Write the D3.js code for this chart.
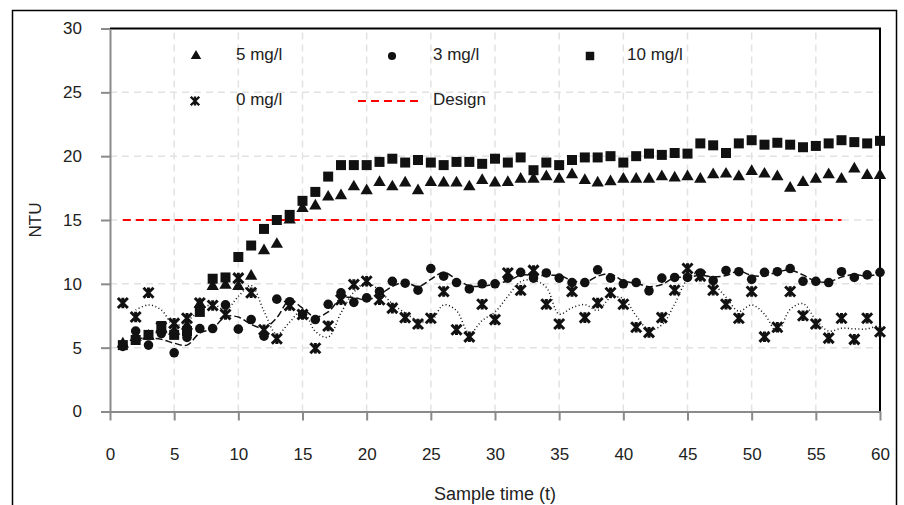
<!DOCTYPE html>
<html lang="en">
<head>
<meta charset="UTF-8">
<title>NTU vs sample time</title>
<script src="https://cdn.jsdelivr.net/npm/d3@7/dist/d3.min.js"></script>
<style>
    body { margin: 0; background: #fff; }
    svg text { font-family: "Liberation Sans", Arial, sans-serif; fill: #222; }
    .grid line { stroke: #e2e2e2; stroke-width: 1.5; stroke-dasharray: 7,5; }
    .axis path, .axis line { stroke: #8a8a8a; stroke-width: 2; }
    .axis text { font-size: 17px; }
</style>
</head>
<body>
<svg width="904" height="505"></svg>
<script>
    // sample times 1..60
    var sampleTimes = d3.range(1, 61);

    var ntu5 = [5.3, 5.8, 5.9, 6.4, 6.3, 6.7, 8.4, 9.8, 9.9, 9.8,
                10.6, 12.6, 13.1, 15.0, 15.9, 16.1, 16.8, 16.9, 17.6, 17.3,
                17.95, 17.6, 17.9, 17.3, 17.95, 17.9, 17.9, 17.6, 18.1, 17.9,
                17.95, 18.2, 18.2, 18.4, 18.2, 18.55, 18.1, 17.9, 18.0, 18.2,
                18.2, 18.2, 18.4, 18.3, 18.4, 18.2, 18.55, 18.6, 18.4, 18.8,
                18.6, 18.4, 17.5, 17.95, 18.2, 18.55, 18.2, 19.0, 18.5, 18.5];

    var ntu3 = [5.1, 6.3, 5.2, 6.1, 4.6, 5.8, 6.5, 6.5, 8.35, 6.45,
                7.2, 5.9, 8.8, 8.6, 7.6, 7.2, 8.4, 9.3, 8.55, 8.9,
                9.4, 10.2, 10.05, 9.5, 11.2, 10.6, 10.1, 9.6, 10.0, 10.0,
                10.45, 10.9, 10.45, 10.85, 10.45, 10.1, 10.1, 11.1, 10.45, 10.0,
                10.1, 9.45, 10.45, 10.5, 10.5, 10.85, 10.25, 11.05, 10.95, 10.35,
                10.9, 10.95, 11.2, 10.2, 10.2, 10.1, 10.95, 10.5, 10.7, 10.9];

    var ntu10 = [5.2, 5.6, 6.0, 6.7, 6.0, 6.3, 7.8, 10.4, 10.5, 12.1,
                 13.0, 14.3, 15.0, 15.4, 16.5, 17.2, 18.4, 19.3, 19.3, 19.3,
                 19.55, 19.8, 19.5, 19.7, 19.5, 19.3, 19.55, 19.55, 19.4, 19.8,
                 19.5, 19.9, 18.9, 19.5, 19.3, 19.7, 19.9, 19.9, 20.0, 19.5,
                 20.0, 20.2, 20.1, 20.25, 20.2, 21.0, 20.85, 20.25, 21.0, 21.25,
                 20.9, 21.05, 20.9, 20.7, 20.8, 21.0, 21.25, 21.1, 21.0, 21.2];

    var ntu0 = [8.5, 7.4, 9.3, 6.6, 6.9, 7.3, 8.5, 8.3, 7.6, 10.45,
                9.3, 6.4, 5.7, 8.3, 7.6, 4.95, 6.7, 8.75, 9.95, 10.2,
                8.75, 8.1, 7.35, 6.85, 7.3, 9.4, 6.4, 5.85, 8.4, 7.2,
                10.85, 9.5, 11.05, 8.4, 6.85, 9.4, 7.35, 8.5, 9.3, 8.4,
                6.6, 6.2, 7.35, 9.5, 11.2, 10.6, 9.5, 8.4, 7.3, 9.4,
                5.85, 6.6, 9.4, 7.5, 6.85, 5.75, 7.3, 5.65, 7.3, 6.25];

    var designLevel = 15;
    var designRange = [1, 57];

    var xTicks = [0, 5, 10, 15, 20, 25, 30, 35, 40, 45, 50, 55, 60];
    var yTicks = [0, 5, 10, 15, 20, 25, 30];

    var svg = d3.select('svg');

    var x = d3.scaleLinear().domain([0, 60]).range([110, 880]);
    var y = d3.scaleLinear().domain([0, 30]).range([411.5, 28.5]);

    // outer frame
    svg.append('rect')
        .attr('x', 12.5).attr('y', 10.5)
        .attr('width', 884).attr('height', 510)
        .attr('fill', 'none').attr('stroke', '#000').attr('stroke-width', 1.5);

    // grid
    var grid = svg.append('g').attr('class', 'grid');
    grid.selectAll('.gy').data(yTicks.slice(1, -1)).enter().append('line')
        .attr('x1', x(0)).attr('x2', x(60))
        .attr('y1', function(d) { return y(d); }).attr('y2', function(d) { return y(d); });
    grid.selectAll('.gx').data(xTicks.slice(1, -1)).enter().append('line')
        .attr('y1', y(0)).attr('y2', y(30))
        .attr('x1', function(d) { return x(d); }).attr('x2', function(d) { return x(d); });

    // top/right border of plot
    svg.append('path')
        .attr('d', 'M' + x(0) + ',' + y(30) + 'H' + x(60) + 'V' + y(0))
        .attr('fill', 'none').attr('stroke', '#000').attr('stroke-width', 2);

    svg.append('g').attr('class', 'axis')
        .attr('transform', 'translate(' + x(0) + ',0)')
        .call(d3.axisLeft(y).tickValues(yTicks).tickSize(9).tickSizeOuter(0).tickPadding(19));

    svg.append('g').attr('class', 'axis')
        .attr('transform', 'translate(0,' + y(0) + ')')
        .call(d3.axisBottom(x).tickValues(xTicks).tickSize(9).tickSizeOuter(0).tickPadding(27));

    svg.append('text')
        .attr('transform', 'translate(35,' + y(15) + ') rotate(-90)')
        .attr('text-anchor', 'middle').attr('dy', '0.35em')
        .style('font-size', '17px').text('NTU');

    svg.append('text')
        .attr('x', (x(0) + x(60)) / 2).attr('y', 494)
        .attr('text-anchor', 'middle').attr('dy', '0.35em')
        .style('font-size', '18px').text('Sample time (t)');

    // design line
    svg.append('line')
        .attr('x1', x(designRange[0])).attr('x2', x(designRange[1]))
        .attr('y1', y(designLevel)).attr('y2', y(designLevel))
        .attr('stroke', '#ff0000').attr('stroke-width', 2).attr('stroke-dasharray', '8,5');

    // 2-period moving average trendlines
    function movingAvg(vals) {
        var out = [];
        for (var i = 1; i < vals.length; i++) out.push([sampleTimes[i], (vals[i] + vals[i - 1]) / 2]);
        return out;
    }
    var trend = d3.line()
        .x(function(d) { return x(d[0]); })
        .y(function(d) { return y(d[1]); })
        .curve(d3.curveCatmullRom.alpha(0.5));

    svg.append('path').attr('d', trend(movingAvg(ntu3)))
        .attr('fill', 'none').attr('stroke', '#111').attr('stroke-width', 1.5)
        .attr('stroke-dasharray', '7,3');
    svg.append('path').attr('d', trend(movingAvg(ntu0)))
        .attr('fill', 'none').attr('stroke', '#111').attr('stroke-width', 1.5)
        .attr('stroke-dasharray', '1,2.5');

    var sym = {
        tri: d3.symbol().type(d3.symbolTriangle).size(66),
        sq: d3.symbol().type(d3.symbolSquare).size(100),
        cir: d3.symbol().type(d3.symbolCircle).size(72)
    };
    var starPath = 'M-5,-5L5,5M-5,5L5,-5M0,-5.3L0,5.3';

    function drawSeries(vals, kind) {
        var g = svg.append('g');
        var pts = g.selectAll('path').data(vals).enter().append('path')
            .attr('transform', function(d, i) {
                return 'translate(' + x(sampleTimes[i]) + ',' + y(d) + ')';
            });
        if (kind === 'star') {
            pts.attr('d', starPath).attr('stroke', '#111').attr('stroke-width', 3).attr('fill', 'none');
        } else {
            pts.attr('d', sym[kind]()).attr('fill', '#111');
        }
    }

    drawSeries(ntu0, 'star');
    drawSeries(ntu3, 'cir');
    drawSeries(ntu5, 'tri');
    drawSeries(ntu10, 'sq');

    // legend
    var legend = [
        {label: '5 mg/l', kind: 'tri', mx: 196, tx: 236, ty: 54},
        {label: '3 mg/l', kind: 'cir', mx: 392, tx: 433, ty: 54},
        {label: '10 mg/l', kind: 'sq', mx: 590, tx: 627, ty: 54},
        {label: '0 mg/l', kind: 'star', mx: 195, tx: 236, ty: 99},
        {label: 'Design', kind: 'line', mx: 388, tx: 433, ty: 99}
    ];
    legend.forEach(function(l) {
        var my = l.ty + 2;
        if (l.kind === 'line') {
            svg.append('line').attr('x1', l.mx - 30).attr('x2', l.mx + 30)
                .attr('y1', my).attr('y2', my)
                .attr('stroke', '#ff0000').attr('stroke-width', 2).attr('stroke-dasharray', '8,5');
        } else if (l.kind === 'star') {
            svg.append('path').attr('d', starPath)
                .attr('transform', 'translate(' + l.mx + ',' + my + ') scale(0.85)')
                .attr('stroke', '#111').attr('stroke-width', 2.8).attr('fill', 'none');
        } else {
            svg.append('path').attr('d', sym[l.kind]())
                .attr('transform', 'translate(' + l.mx + ',' + my + ') scale(0.85)')
                .attr('fill', '#111');
        }
        svg.append('text').attr('x', l.tx).attr('y', l.ty).attr('dy', '0.35em')
            .style('font-size', '17px').text(l.label);
    });
</script>
</body>
</html>
